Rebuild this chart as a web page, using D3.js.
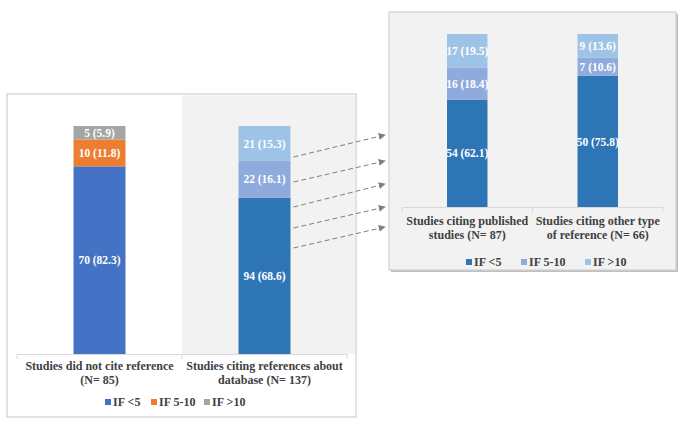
<!DOCTYPE html>
<html><head><meta charset="utf-8">
<script src="https://cdn.jsdelivr.net/npm/d3@7"></script>
<style>body{margin:0;background:#fff}svg{display:block}text{font-family:"Liberation Serif","Times New Roman",serif;font-weight:bold}</style>
</head><body><svg id="c" width="685" height="431"></svg>
<script>
const seriesNames = ["IF <5", "IF 5-10", "IF >10"];
const leftCategories = ["Studies did not cite reference|(N= 85)", "Studies citing references about|database (N= 137)"];
const leftCounts = [[70, 10, 5], [94, 22, 21]];
const leftPercents = [[82.3, 11.8, 5.9], [68.6, 16.1, 15.3]];
const rightCategories = ["Studies citing published|studies (N= 87)", "Studies citing other type|of reference (N= 66)"];
const rightCounts = [[54, 16, 17], [50, 7, 9]];
const rightPercents = [[62.1, 18.4, 19.5], [75.8, 10.6, 13.6]];
const leftColors = [["#4472C4", "#ED7D31", "#A5A5A5"], ["#2E75B6", "#8FAADC", "#9DC3E6"]];
const leftLegendColors = ["#4472C4", "#ED7D31", "#A5A5A5"];
const rightColors = ["#2E75B6", "#8FAADC", "#9DC3E6"];

const svg = d3.select("#c");

function panel(cfg) {
  const g = svg.append("g");
  if (cfg.shadow) {
    g.append("rect").attr("x", cfg.box[0] + 2).attr("y", cfg.box[1] + 2).attr("width", cfg.box[2]).attr("height", cfg.box[3]).attr("fill", "#bfbfbf");
  }
  g.append("rect").attr("x", cfg.box[0]).attr("y", cfg.box[1]).attr("width", cfg.box[2]).attr("height", cfg.box[3])
    .attr("fill", cfg.bg).attr("stroke", "#d0d0d0").attr("stroke-width", 1.2);
  const x = d3.scaleBand().domain(cfg.cats).range(cfg.xr);
  const y = d3.scaleLinear().domain([0, 100]).range(cfg.yr);
  if (cfg.shade) {
    g.append("rect").attr("x", x(cfg.cats[1])).attr("y", cfg.box[1] + 1.5)
      .attr("width", cfg.box[0] + cfg.box[2] - 1 - x(cfg.cats[1])).attr("height", cfg.yr[0] - cfg.box[1] - 1.5).attr("fill", "#f2f2f2");
  }
  const bw = x.bandwidth() * cfg.barFrac;
  cfg.cats.forEach((c, i) => {
    const stack = d3.stack().keys([0, 1, 2])([cfg.pcts[i]]);
    stack.forEach((s, k) => {
      const d = s[0];
      const cx = x(c) + x.bandwidth() / 2;
      g.append("rect").attr("x", cx - bw / 2).attr("y", y(d[1])).attr("width", bw)
        .attr("height", y(d[0]) - y(d[1])).attr("fill", cfg.colors[i][k]);
      g.append("text").attr("x", cx).attr("y", (y(d[0]) + y(d[1])) / 2).attr("dy", "0.36em")
        .attr("text-anchor", "middle").attr("fill", "#fff").attr("font-size", cfg.fs)
        .text(`${cfg.counts[i][k]} (${cfg.pcts[i][k]})`);
    });
  });
  const ax = g.append("g").attr("transform", `translate(0,${cfg.yr[0]})`)
    .call(d3.axisBottom(x).tickSize(0).tickFormat(""));
  ax.select(".domain").attr("stroke", "#d9d9d9").attr("stroke-width", 1.2);
  [cfg.xr[0], x(cfg.cats[1]), cfg.xr[1]].forEach(t => {
    g.append("line").attr("x1", t).attr("x2", t).attr("y1", cfg.yr[0]).attr("y2", cfg.yr[0] + 5).attr("stroke", "#d9d9d9");
  });
  cfg.cats.forEach(c => {
    const lines = c.split("|");
    const cx = x(c) + x.bandwidth() / 2;
    lines.forEach((l, j) => {
      g.append("text").attr("x", cx).attr("y", cfg.labY + j * 13.5).attr("text-anchor", "middle")
        .attr("fill", "#404040").attr("font-size", 12).text(l);
    });
  });
  seriesNames.forEach((n, k) => {
    g.append("rect").attr("x", cfg.legX[k]).attr("y", cfg.legY - 3).attr("width", 6).attr("height", 6).attr("fill", cfg.legColors[k]);
    g.append("text").attr("x", cfg.legX[k] + 8).attr("y", cfg.legY).attr("dy", "0.36em")
      .attr("fill", "#404040").attr("font-size", 12).text(n);
  });
  return { x, y, bw };
}

const L = panel({ box: [7, 94, 349, 323], bg: "#fff", shade: true, cats: leftCategories, xr: [17, 347], yr: [354, 126],
  barFrac: 0.315, pcts: leftPercents, counts: leftCounts, colors: leftColors, fs: 11.5, labY: 370,
  legX: [105, 151, 204], legY: 402, legColors: leftLegendColors });
const R = panel({ box: [389, 12, 287, 258], bg: "#f2f2f2", shadow: true, shade: false, cats: rightCategories, xr: [402, 663], yr: [207, 34],
  barFrac: 0.31, pcts: rightPercents, counts: rightCounts, colors: [rightColors, rightColors], fs: 11.5, labY: 225,
  legX: [466, 521, 585], legY: 262, legColors: rightColors });

const arrowStartY = [157, 182, 207, 228, 248];
const arrowEndY = [135, 161, 184, 207, 227];
const x0 = L.x(leftCategories[1]) + L.x.bandwidth() / 2 + L.bw / 2 + 3;
const x1 = 385;
svg.append("defs").append("marker").attr("id", "ah").attr("viewBox", "0 0 10 10").attr("refX", 9).attr("refY", 5)
  .attr("markerWidth", 7).attr("markerHeight", 7).attr("markerUnits", "userSpaceOnUse").attr("orient", "auto")
  .append("path").attr("d", "M0,0L10,5L0,10z").attr("fill", "#7f7f7f");
arrowStartY.forEach((ys, i) => {
  svg.append("line").attr("x1", x0).attr("y1", ys).attr("x2", x1).attr("y2", arrowEndY[i])
    .attr("stroke", "#7f7f7f").attr("stroke-width", 1).attr("stroke-dasharray", "5,3").attr("marker-end", "url(#ah)");
});
</script></body></html>
